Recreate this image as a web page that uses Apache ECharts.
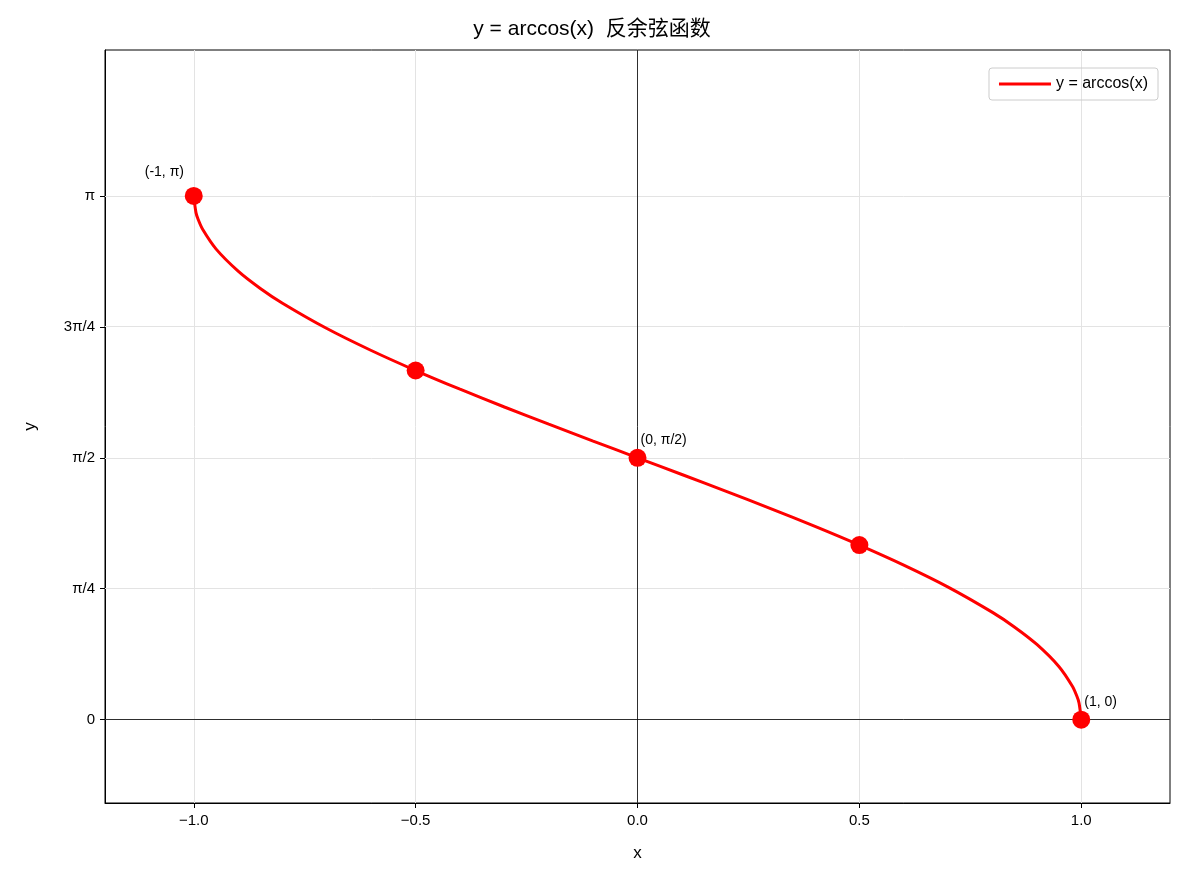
<!DOCTYPE html>
<html><head><meta charset="utf-8">
<script src="https://cdn.jsdelivr.net/npm/echarts@6/dist/echarts.min.js"></script>
<style>html,body{margin:0;background:#fff}#c{width:1184px;height:885px}</style>
</head><body><div id="c"></div>
<script>
const curveX = [-1,-0.995,-0.99,-0.98,-0.95,-0.9,-0.85,-0.8,-0.7,-0.6,-0.5,-0.4,-0.3,-0.2,-0.1,0,0.1,0.2,0.3,0.4,0.5,0.6,0.7,0.8,0.85,0.9,0.95,0.98,0.99,0.995,1];
const curveY = [3.1416,3.0414,3.0001,2.9413,2.8240,2.6906,2.5868,2.4981,2.3462,2.2143,2.0944,1.9823,1.8755,1.7722,1.6710,1.5708,1.4706,1.3694,1.2661,1.1593,1.0472,0.9273,0.7954,0.6435,0.5548,0.4510,0.3176,0.2003,0.1415,0.1002,0];
const keyX = [-1,-0.5,0,0.5,1];
const keyY = [3.1416,2.0944,1.5708,1.0472,0];
const keyLabels = ['(-1, π)','','(0, π/2)','','(1, 0)'];
const yTickVals = [0,0.7854,1.5708,2.3562,3.1416];
const yTickLabels = ['0','π/4','π/2','3π/4','π'];
const xTickVals = [-1,-0.5,0,0.5,1];
const xTickLabels = ['−1.0','−0.5','0.0','0.5','1.0'];
const F = 'Liberation Sans, Arial, sans-serif';
const chart = echarts.init(document.getElementById('c'));
const grid = '#e3e3e3';
chart.setOption({
  animation:false,
  title:{text:'y = arccos(x)  反余弦函数',left:'center',top:14,textStyle:{fontFamily:F+',Noto Sans CJK SC',fontSize:21,fontWeight:'normal',color:'#000'}},
  legend:{right:26,top:68,orient:'vertical',data:['y = arccos(x)'],itemWidth:52,itemHeight:3,borderColor:'#ccc',borderWidth:1,borderRadius:3,padding:[8,10,8,10],textStyle:{fontFamily:F,fontSize:16,color:'#000'},icon:'rect'},
  grid:{left:105,right:14,top:50,bottom:82,show:true,borderColor:'#000',borderWidth:1},
  xAxis:{type:'value',min:-1.2,max:1.2,name:'x',nameLocation:'middle',nameGap:42,nameTextStyle:{fontFamily:F,fontSize:17,color:'#000'},
    axisLine:{onZero:false,lineStyle:{color:'#000'}},splitLine:{show:false},
    axisTick:{customValues:xTickVals,length:5,lineStyle:{color:'#000'}},
    axisLabel:{customValues:xTickVals,formatter:v=>xTickLabels[xTickVals.indexOf(v)] ?? '',fontFamily:F,fontSize:15,color:'#000',margin:10}},
  yAxis:{type:'value',min:-0.5,max:4.017,name:'y',nameLocation:'middle',nameGap:66,nameTextStyle:{fontFamily:F,fontSize:17,color:'#000'},
    axisLine:{show:true,onZero:false,lineStyle:{color:'#000'}},splitLine:{show:false},
    axisTick:{show:true,customValues:yTickVals,length:5,lineStyle:{color:'#000'}},
    axisLabel:{customValues:yTickVals,formatter:v=>{let i=yTickVals.findIndex(t=>Math.abs(t-v)<1e-3);return i>=0?yTickLabels[i]:'';},fontFamily:F,fontSize:15,color:'#000',margin:10}},
  series:[
    {type:'line',name:'_grid',data:[],silent:true,z:1,markLine:{symbol:'none',silent:true,z:1,label:{show:false},
      data:[...yTickVals.map(v=>({yAxis:v,lineStyle:{color:grid,width:1,type:'solid'}})),...xTickVals.map(v=>({xAxis:v,lineStyle:{color:grid,width:1,type:'solid'}})),
        {yAxis:0,lineStyle:{color:'#000',width:0.8,type:'solid'}},{xAxis:0,lineStyle:{color:'#000',width:0.8,type:'solid'}}]}},
    {type:'line',name:'y = arccos(x)',data:curveX.map((x,i)=>[x,curveY[i]]),smooth:0.3,showSymbol:false,lineStyle:{color:'#ff0000',width:3},itemStyle:{color:'#ff0000'},z:5},
    {type:'scatter',name:'pts',data:keyX.map((x,i)=>({value:[x,keyY[i]],label:{show:!!keyLabels[i],formatter:keyLabels[i],position:i===0?[-40,-22]:[12,-16]}})),
      symbolSize:18,itemStyle:{color:'#ff0000',opacity:1},z:6,label:{fontFamily:F,fontSize:14,color:'#000'}}
  ]
});
</script></body></html>
